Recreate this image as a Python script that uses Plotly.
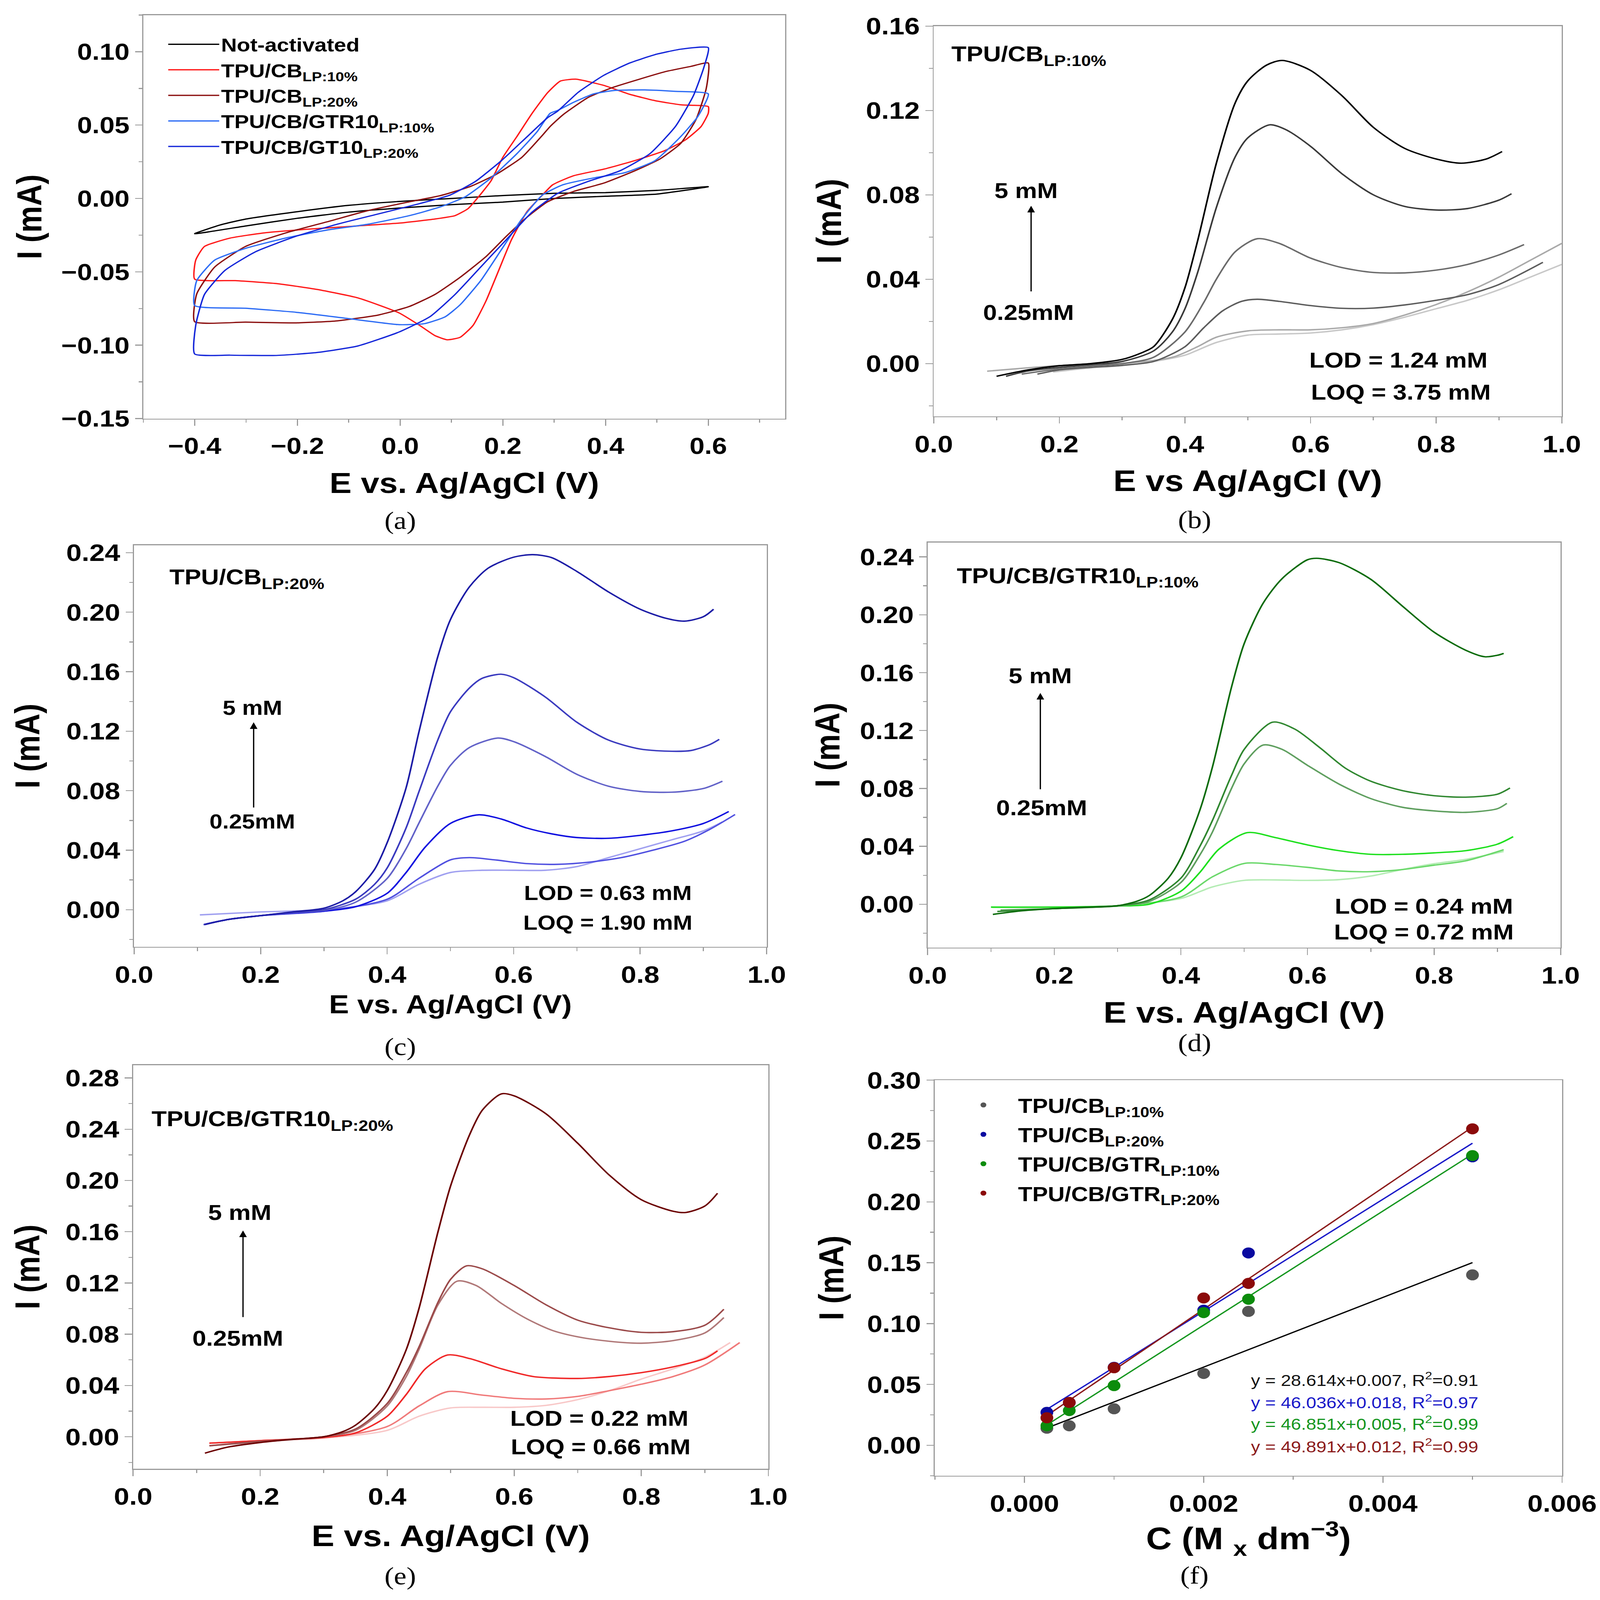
import plotly.graph_objects as go

W, H = 4391, 5073
FONT = "Liberation Sans"
AXC = "#9a9a9a"

# ---------- (a) cyclic voltammograms ----------
a_names = ["Not-activated", "TPU/CB<sub>LP:10%</sub>", "TPU/CB<sub>LP:20%</sub>",
           "TPU/CB/GTR10<sub>LP:10%</sub>", "TPU/CB/GT10<sub>LP:20%</sub>"]
a_colors = ["#000000", "#ff1a1a", "#8b0f0f", "#2d6cf5", "#1426d9"]

a_not_E = [-0.4, -0.35, -0.3, -0.2, -0.1, 0.0, 0.1, 0.2, 0.3, 0.4, 0.5, 0.6,
           0.5, 0.4, 0.3, 0.2, 0.1, 0.0, -0.1, -0.2, -0.3, -0.4]
a_not_I = [-0.024, -0.018, -0.014, -0.009, -0.0047, -0.002, 0.0, 0.002, 0.0035, 0.004, 0.0055, 0.008,
           0.003, 0.0015, 0.0, -0.0025, -0.0042, -0.0065, -0.0093, -0.0135, -0.0187, -0.024]

a_cb10_E = [-0.4, -0.398, -0.381, -0.331, -0.261, -0.182, -0.082, -0.002, 0.068, 0.107, 0.132, 0.150,
            0.177, 0.200, 0.227, 0.257, 0.287, 0.312, 0.342, 0.397, 0.447, 0.497, 0.547, 0.6, 0.6,
            0.586, 0.556, 0.516, 0.456, 0.397, 0.337, 0.297, 0.277, 0.247, 0.217, 0.192, 0.167,
            0.142, 0.117, 0.092, 0.068, 0.038, -0.002, -0.082, -0.162, -0.241, -0.321, -0.4]
a_cb10_I = [-0.055, -0.042, -0.0327, -0.027, -0.0233, -0.021, -0.0187, -0.0168, -0.014, -0.0117, -0.007, 0.0,
            0.012, 0.028, 0.042, 0.058, 0.072, 0.080, 0.0813, 0.077, 0.071, 0.0666, 0.0638, 0.0626, 0.058,
            0.049, 0.040, 0.0327, 0.0257, 0.020, 0.0154, 0.0093, 0.0023, -0.009, -0.028, -0.049, -0.070,
            -0.0865, -0.0946, -0.0963, -0.0935, -0.0865, -0.078, -0.0678, -0.062, -0.058, -0.056, -0.055]

a_cb20_E = [-0.4, -0.396, -0.361, -0.301, -0.222, -0.142, -0.062, 0.018, 0.078, 0.137, 0.187, 0.237,
            0.277, 0.292, 0.317, 0.367, 0.417, 0.466, 0.516, 0.566, 0.6,
            0.596, 0.576, 0.546, 0.506, 0.456, 0.397, 0.337, 0.287, 0.247, 0.207, 0.167, 0.117,
            0.068, 0.018, -0.042, -0.122, -0.202, -0.301, -0.4]
a_cb20_I = [-0.084, -0.065, -0.0467, -0.0327, -0.0234, -0.0159, -0.0082, -0.0023, 0.0019, 0.0082, 0.0164, 0.028,
            0.043, 0.049, 0.057, 0.069, 0.076, 0.0813, 0.0864, 0.090, 0.0923,
            0.0748, 0.0537, 0.0374, 0.0269, 0.0187, 0.0105, 0.0047, -0.0023, -0.0128, -0.0257, -0.0397, -0.0537,
            -0.0654, -0.0736, -0.0794, -0.0834, -0.0848, -0.0843, -0.084]

a_gtr10_E = [-0.4, -0.396, -0.361, -0.301, -0.222, -0.142, -0.062, 0.018, 0.078, 0.127, 0.177, 0.227,
             0.267, 0.292, 0.307, 0.337, 0.377, 0.417, 0.476, 0.536, 0.6,
             0.58, 0.546, 0.496, 0.437, 0.377, 0.317, 0.277, 0.237, 0.197, 0.157, 0.117, 0.088,
             0.048, -0.002, -0.102, -0.202, -0.301, -0.4]
a_gtr10_I = [-0.073, -0.056, -0.042, -0.034, -0.0269, -0.0215, -0.0175, -0.0117, -0.0058, 0.0012, 0.014, 0.0304,
             0.0456, 0.058, 0.060, 0.0654, 0.0713, 0.0736, 0.074, 0.073, 0.0713,
             0.056, 0.042, 0.0257, 0.0175, 0.014, 0.0093, 0.0023, -0.014, -0.035, -0.056, -0.0724, -0.0806,
             -0.0853, -0.086, -0.0818, -0.0776, -0.0748, -0.073]

a_gt10_E = [-0.4, -0.398, -0.381, -0.341, -0.281, -0.202, -0.122, -0.042, 0.038, 0.097, 0.147, 0.197,
            0.247, 0.287, 0.307, 0.347, 0.397, 0.447, 0.496, 0.546, 0.6,
            0.591, 0.571, 0.536, 0.486, 0.427, 0.367, 0.307, 0.257, 0.207, 0.157, 0.107, 0.058,
            -0.002, -0.082, -0.162, -0.241, -0.331, -0.4]
a_gt10_I = [-0.106, -0.0864, -0.0654, -0.049, -0.0362, -0.0257, -0.0175, -0.0105, -0.0035, 0.0023, 0.0117, 0.0257,
            0.042, 0.055, 0.0596, 0.0724, 0.084, 0.0923, 0.098, 0.1017, 0.1028,
            0.0888, 0.070, 0.049, 0.0304, 0.0187, 0.0117, 0.0035, -0.0093, -0.028, -0.0467, -0.0654, -0.0806,
            -0.091, -0.1005, -0.105, -0.107, -0.1068, -0.106]

# ---------- (b) TPU/CB LP:10% DPV ----------
b_colors = ["#000000", "#3a3a3a", "#6b6b6b", "#5c5c5c", "#a9a9a9", "#c8c8c8"]
b1_E = [0.10, 0.15, 0.2, 0.25, 0.3, 0.33, 0.35, 0.38, 0.40, 0.42, 0.45, 0.48, 0.50, 0.53, 0.555,
        0.60, 0.65, 0.70, 0.75, 0.80, 0.84, 0.88, 0.905]
b1_I = [-0.006, -0.003, -0.001, 0.0, 0.002, 0.005, 0.008, 0.021, 0.036, 0.058, 0.095, 0.1236, 0.134, 0.1415, 0.1437,
        0.139, 0.127, 0.112, 0.102, 0.097, 0.095, 0.097, 0.1005]
b2_E = [0.115, 0.15, 0.2, 0.25, 0.3, 0.35, 0.38, 0.40, 0.42, 0.45, 0.48, 0.50, 0.535, 0.56, 0.60,
        0.65, 0.70, 0.75, 0.80, 0.85, 0.90, 0.92]
b2_I = [-0.006, -0.0035, -0.0018, -0.0005, 0.001, 0.006, 0.015, 0.026, 0.043, 0.074, 0.098, 0.107, 0.1132, 0.111, 0.103,
        0.090, 0.080, 0.0745, 0.0728, 0.0735, 0.0775, 0.0805]
b3_E = [0.14, 0.2, 0.25, 0.3, 0.35, 0.40, 0.43, 0.45, 0.48, 0.515, 0.55, 0.60, 0.65, 0.70, 0.75, 0.80, 0.85, 0.90, 0.94]
b3_I = [-0.005, -0.0025, -0.0012, 0.0, 0.003, 0.015, 0.029, 0.040, 0.053, 0.0592, 0.057, 0.050, 0.0455, 0.0432,
        0.043, 0.0443, 0.047, 0.0515, 0.0564]
b4_E = [0.165, 0.2, 0.25, 0.3, 0.35, 0.40, 0.43, 0.46, 0.49, 0.515, 0.55, 0.60, 0.65, 0.70, 0.75, 0.80, 0.85, 0.90, 0.97]
b4_I = [-0.005, -0.003, -0.0018, -0.0008, 0.001, 0.008, 0.017, 0.025, 0.0295, 0.0305, 0.0295, 0.0275, 0.0262, 0.0263,
        0.0278, 0.030, 0.0327, 0.0375, 0.048]
b5_E = [0.085, 0.15, 0.2, 0.3, 0.38, 0.42, 0.45, 0.50, 0.55, 0.60, 0.65, 0.70, 0.75, 0.80, 0.85, 0.90, 0.95, 1.0]
b5_I = [-0.0036, -0.002, -0.001, 0.0, 0.003, 0.008, 0.0125, 0.0155, 0.016, 0.016, 0.017, 0.019, 0.023, 0.028, 0.034,
        0.041, 0.049, 0.057]
b6_E = [0.19, 0.25, 0.3, 0.35, 0.40, 0.45, 0.50, 0.55, 0.60, 0.65, 0.70, 0.75, 0.80, 0.85, 0.90, 0.95, 1.0]
b6_I = [-0.004, -0.002, -0.001, 0.001, 0.004, 0.010, 0.0135, 0.014, 0.0145, 0.016, 0.0185, 0.022, 0.026, 0.030,
        0.035, 0.041, 0.047]

# ---------- (c) TPU/CB LP:20% DPV ----------
c_colors = ["#1c1ca6", "#3a3abf", "#6262c8", "#1010e0", "#5050e0", "#a0a0f0"]
c1_E = [0.112, 0.15, 0.2, 0.25, 0.3, 0.33, 0.35, 0.38, 0.40, 0.43, 0.45, 0.48, 0.50, 0.53, 0.56, 0.60, 0.63,
        0.66, 0.70, 0.75, 0.80, 0.84, 0.87, 0.90, 0.916]
c1_I = [-0.010, -0.0065, -0.004, -0.0015, 0.001, 0.006, 0.012, 0.027, 0.045, 0.082, 0.119, 0.170, 0.195, 0.217,
        0.2297, 0.237, 0.2387, 0.2367, 0.2274, 0.2136, 0.202, 0.196, 0.194, 0.197, 0.202]
c2_E = [0.11, 0.15, 0.2, 0.25, 0.3, 0.35, 0.38, 0.40, 0.43, 0.45, 0.48, 0.50, 0.53, 0.55, 0.58, 0.60, 0.65, 0.70,
        0.75, 0.80, 0.85, 0.88, 0.91, 0.925]
c2_I = [-0.010, -0.0065, -0.004, -0.0018, 0.0, 0.007, 0.017, 0.028, 0.055, 0.079, 0.114, 0.133, 0.149, 0.1555,
        0.1583, 0.156, 0.143, 0.126, 0.114, 0.108, 0.1065, 0.107, 0.111, 0.1145]
c3_E = [0.11, 0.15, 0.2, 0.25, 0.3, 0.35, 0.40, 0.43, 0.45, 0.48, 0.50, 0.53, 0.575, 0.60, 0.65, 0.70, 0.75, 0.80,
        0.85, 0.90, 0.93]
c3_I = [-0.010, -0.0065, -0.004, -0.002, -0.0005, 0.005, 0.021, 0.041, 0.058, 0.083, 0.097, 0.109, 0.1154, 0.113,
        0.103, 0.091, 0.083, 0.0795, 0.079, 0.0815, 0.0864]
c4_E = [0.11, 0.15, 0.2, 0.25, 0.3, 0.35, 0.40, 0.43, 0.46, 0.50, 0.545, 0.58, 0.62, 0.66, 0.70, 0.75, 0.80, 0.85,
        0.90, 0.94]
c4_I = [-0.010, -0.0065, -0.004, -0.0022, -0.001, 0.002, 0.011, 0.025, 0.042, 0.058, 0.0638, 0.061, 0.055, 0.051,
        0.0485, 0.048, 0.050, 0.053, 0.058, 0.066]
c5_E = [0.11, 0.15, 0.2, 0.3, 0.40, 0.45, 0.50, 0.53, 0.57, 0.62, 0.67, 0.72, 0.77, 0.82, 0.87, 0.91, 0.95]
c5_I = [-0.010, -0.0065, -0.004, -0.001, 0.007, 0.021, 0.0335, 0.035, 0.0335, 0.031, 0.0305, 0.032, 0.035, 0.040,
        0.046, 0.054, 0.064]
c6_E = [0.104, 0.2, 0.3, 0.40, 0.45, 0.50, 0.55, 0.60, 0.65, 0.70, 0.75, 0.80, 0.85, 0.90, 0.93]
c6_I = [-0.0035, -0.0015, 0.0, 0.006, 0.017, 0.025, 0.0265, 0.0265, 0.0265, 0.029, 0.035, 0.041, 0.047, 0.053, 0.059]

# ---------- (d) TPU/CB/GTR10 LP:10% DPV ----------
d_colors = ["#0b6b0b", "#2f872f", "#5f9f5f", "#1ee01e", "#6ad86a", "#b4ecb4"]
d1_E = [0.103, 0.15, 0.2, 0.25, 0.3, 0.33, 0.35, 0.38, 0.40, 0.43, 0.45, 0.48, 0.50, 0.53, 0.56, 0.60, 0.615,
        0.65, 0.70, 0.75, 0.80, 0.85, 0.88, 0.90, 0.91]
d1_I = [-0.007, -0.0045, -0.003, -0.002, -0.001, 0.002, 0.006, 0.018, 0.032, 0.065, 0.095, 0.150, 0.180, 0.208,
        0.225, 0.238, 0.239, 0.236, 0.2245, 0.206, 0.188, 0.1755, 0.171, 0.172, 0.1733]
d2_E = [0.11, 0.2, 0.3, 0.35, 0.40, 0.43, 0.45, 0.48, 0.50, 0.545, 0.58, 0.62, 0.66, 0.70, 0.75, 0.80, 0.85, 0.90, 0.92]
d2_I = [-0.005, -0.003, -0.001, 0.003, 0.018, 0.040, 0.058, 0.089, 0.107, 0.1258, 0.121, 0.108, 0.094, 0.085,
        0.0785, 0.075, 0.074, 0.076, 0.0803]
d3_E = [0.115, 0.2, 0.3, 0.35, 0.40, 0.43, 0.45, 0.48, 0.50, 0.53, 0.56, 0.60, 0.65, 0.70, 0.75, 0.80, 0.85, 0.90, 0.915]
d3_I = [-0.004, -0.003, -0.0012, 0.002, 0.015, 0.034, 0.050, 0.080, 0.097, 0.110, 0.107, 0.096, 0.083, 0.073,
        0.067, 0.0645, 0.0635, 0.066, 0.0697]
d4_E = [0.10, 0.2, 0.3, 0.35, 0.40, 0.43, 0.46, 0.505, 0.55, 0.60, 0.65, 0.70, 0.75, 0.80, 0.85, 0.90, 0.925]
d4_I = [-0.002, -0.002, -0.0012, 0.0, 0.009, 0.022, 0.038, 0.0495, 0.046, 0.041, 0.037, 0.0345, 0.0345, 0.0355,
        0.037, 0.0415, 0.0467]
d5_E = [0.10, 0.2, 0.3, 0.40, 0.45, 0.50, 0.55, 0.60, 0.65, 0.70, 0.75, 0.80, 0.85, 0.91]
d5_I = [-0.002, -0.002, -0.0012, 0.005, 0.019, 0.0282, 0.0275, 0.0255, 0.023, 0.0225, 0.024, 0.027, 0.030, 0.0377]
d6_E = [0.10, 0.2, 0.3, 0.40, 0.45, 0.50, 0.55, 0.60, 0.65, 0.70, 0.75, 0.80, 0.85, 0.91]
d6_I = [-0.002, -0.0018, -0.001, 0.004, 0.012, 0.0165, 0.0168, 0.0165, 0.017, 0.0195, 0.024, 0.028, 0.031, 0.0365]

# ---------- (e) TPU/CB/GTR10 LP:20% DPV ----------
e_colors = ["#6b0000", "#9b4a4a", "#b07878", "#f02828", "#f07a7a", "#f8c8c8"]
e1_E = [0.113, 0.15, 0.2, 0.25, 0.3, 0.33, 0.35, 0.38, 0.40, 0.43, 0.45, 0.48, 0.50, 0.53, 0.55, 0.58, 0.60,
        0.65, 0.70, 0.75, 0.80, 0.85, 0.87, 0.90, 0.92]
e1_I = [-0.0128, -0.008, -0.0045, -0.002, 0.0, 0.004, 0.009, 0.022, 0.036, 0.068, 0.100, 0.160, 0.196, 0.236,
        0.255, 0.2676, 0.266, 0.252, 0.229, 0.204, 0.185, 0.176, 0.175, 0.180, 0.190]
e2_E = [0.12, 0.2, 0.3, 0.35, 0.40, 0.43, 0.45, 0.48, 0.50, 0.525, 0.55, 0.60, 0.65, 0.70, 0.75, 0.80, 0.85, 0.90, 0.93]
e2_I = [-0.007, -0.0035, 0.0, 0.006, 0.026, 0.050, 0.070, 0.105, 0.123, 0.1334, 0.131, 0.118, 0.103, 0.091,
        0.085, 0.0815, 0.082, 0.087, 0.0995]
e3_E = [0.12, 0.2, 0.3, 0.35, 0.40, 0.43, 0.45, 0.48, 0.51, 0.54, 0.58, 0.62, 0.66, 0.70, 0.75, 0.80, 0.85, 0.90, 0.93]
e3_I = [-0.007, -0.004, 0.0, 0.005, 0.024, 0.047, 0.068, 0.103, 0.1214, 0.118, 0.104, 0.092, 0.083, 0.078,
        0.0745, 0.073, 0.075, 0.081, 0.093]
e4_E = [0.12, 0.2, 0.3, 0.35, 0.40, 0.43, 0.46, 0.495, 0.53, 0.58, 0.63, 0.70, 0.75, 0.80, 0.85, 0.90, 0.92]
e4_I = [-0.005, -0.003, -0.0005, 0.003, 0.016, 0.033, 0.053, 0.0638, 0.061, 0.053, 0.047, 0.0455, 0.047, 0.050,
        0.0545, 0.061, 0.067]
e5_E = [0.12, 0.2, 0.3, 0.40, 0.45, 0.495, 0.55, 0.60, 0.65, 0.70, 0.75, 0.80, 0.85, 0.90, 0.955]
e5_I = [-0.005, -0.003, -0.0008, 0.008, 0.024, 0.0352, 0.0325, 0.030, 0.0295, 0.0315, 0.036, 0.041, 0.047, 0.056, 0.0735]
e6_E = [0.12, 0.2, 0.3, 0.40, 0.45, 0.50, 0.55, 0.60, 0.65, 0.70, 0.75, 0.80, 0.85, 0.90, 0.94]
e6_I = [-0.005, -0.003, -0.001, 0.005, 0.016, 0.0225, 0.023, 0.023, 0.0245, 0.029, 0.036, 0.045, 0.053, 0.062, 0.0735]

# ---------- (f) calibration ----------
conc = [0.00025, 0.0005, 0.001, 0.002, 0.0025, 0.005]
f_cb10 = [0.014, 0.016, 0.030, 0.059, 0.110, 0.140]
f_cb20 = [0.027, 0.035, 0.064, 0.111, 0.158, 0.237]
f_gtr10 = [0.016, 0.0285, 0.049, 0.109, 0.120, 0.238]
f_gtr20 = [0.0226, 0.0352, 0.0637, 0.121, 0.133, 0.260]
f_names = ["TPU/CB<sub>LP:10%</sub>", "TPU/CB<sub>LP:20%</sub>",
           "TPU/CB/GTR<sub>LP:10%</sub>", "TPU/CB/GTR<sub>LP:20%</sub>"]
f_dot_colors = ["#555555", "#0a0aa0", "#0c8c0c", "#8b0a0a"]
f_line_colors = ["#000000", "#1818c8", "#14961e", "#8b1a1a"]
f_slope = [28.614, 46.036, 46.851, 49.891]
f_icpt = [0.007, 0.018, 0.005, 0.012]
f_r2 = ["0.91", "0.97", "0.99", "0.99"]


def bold(size):
    return dict(family=FONT, size=size, color="black", weight="bold")


def axis(domain, anchor, rng, dtick, minor, fmt, title, tsize, standoff, ticksize=76):
    return dict(domain=domain, anchor=anchor, range=rng, dtick=dtick, tick0=0, tickformat=fmt,
                showline=True, mirror=True, linecolor=AXC, linewidth=3,
                ticks="outside", ticklen=20, tickwidth=3, tickcolor=AXC,
                minor=dict(ticks="outside", dtick=minor, ticklen=10, tickwidth=3, tickcolor=AXC),
                showgrid=False, zeroline=False, automargin=False,
                tickfont=bold(ticksize),
                title=dict(text=title, font=bold(tsize), standoff=standoff))


fig = go.Figure()

# (a)
for name, col, xs, ys in zip(a_names, a_colors,
                             [a_not_E, a_cb10_E, a_cb20_E, a_gtr10_E, a_gt10_E],
                             [a_not_I, a_cb10_I, a_cb20_I, a_gtr10_I, a_gt10_I]):
    fig.add_trace(go.Scatter(x=xs, y=ys, mode="lines", name=name, xaxis="x", yaxis="y",
                             line=dict(color=col, width=4, shape="spline", smoothing=0.5),
                             legend="legend"))

# (b)-(e)
dpv = [
    ("x2", "y2", b_colors, [(b1_E, b1_I), (b2_E, b2_I), (b3_E, b3_I), (b4_E, b4_I), (b5_E, b5_I), (b6_E, b6_I)]),
    ("x3", "y3", c_colors, [(c1_E, c1_I), (c2_E, c2_I), (c3_E, c3_I), (c4_E, c4_I), (c5_E, c5_I), (c6_E, c6_I)]),
    ("x4", "y4", d_colors, [(d1_E, d1_I), (d2_E, d2_I), (d3_E, d3_I), (d4_E, d4_I), (d5_E, d5_I), (d6_E, d6_I)]),
    ("x5", "y5", e_colors, [(e1_E, e1_I), (e2_E, e2_I), (e3_E, e3_I), (e4_E, e4_I), (e5_E, e5_I), (e6_E, e6_I)]),
]
for xa, ya, cols, curves in dpv:
    for col, (xs, ys) in reversed(list(zip(cols, curves))):
        fig.add_trace(go.Scatter(x=xs, y=ys, mode="lines", xaxis=xa, yaxis=ya, showlegend=False,
                                 line=dict(color=col, width=4.5, shape="spline", smoothing=0.8)))

# (f) fit lines then points
f_series = [f_cb10, f_cb20, f_gtr10, f_gtr20]
fit_x = [min(conc), max(conc)]
for k in range(4):
    fig.add_trace(go.Scatter(x=fit_x, y=[f_slope[k] * c + f_icpt[k] for c in fit_x], mode="lines",
                             xaxis="x6", yaxis="y6", showlegend=False,
                             line=dict(color=f_line_colors[k], width=4)))
for k in range(4):
    fig.add_trace(go.Scatter(x=conc, y=f_series[k], mode="markers", name=f_names[k], xaxis="x6", yaxis="y6",
                             marker=dict(color=f_dot_colors[k], size=35), legend="legend2",
                             legendgroup="f%d" % k))

layout = dict(
    width=W, height=H, margin=dict(l=0, r=0, t=0, b=0),
    paper_bgcolor="white", plot_bgcolor="white",
    xaxis=axis([0.0896, 0.4908], "y", [-0.5, 0.75], 0.2, 0.1, ".1f", "E vs. Ag/AgCl (V)", 91, 46, 74),
    yaxis=axis([0.7384, 0.9906], "x", [-0.15, 0.125], 0.05, 0.025, ".2f", "I (mA)", 95, 23, 74),
    xaxis2=axis([0.5836, 0.9761], "y2", [0, 1], 0.2, 0.1, ".1f", "E vs Ag/AgCl (V)", 94, 42),
    yaxis2=axis([0.7398, 0.9837], "x2", [-0.025, 0.16], 0.04, 0.02, ".2f", "I (mA)", 95, 37),
    xaxis3=axis([0.0838, 0.4792], "y3", [0, 1], 0.2, 0.1, ".1f", "E vs. Ag/AgCl (V)", 82, 24),
    yaxis3=axis([0.4082, 0.6592], "x3", [-0.025, 0.245], 0.04, 0.02, ".2f", "I (mA)", 95, 42),
    xaxis4=axis([0.5798, 0.9754], "y4", [0, 1], 0.2, 0.1, ".1f", "E vs. Ag/AgCl (V)", 95, 43),
    yaxis4=axis([0.4077, 0.6610], "x4", [-0.030, 0.250], 0.04, 0.02, ".2f", "I (mA)", 95, 24),
    xaxis5=axis([0.0832, 0.4802], "y5", [0, 1], 0.2, 0.1, ".1f", "E vs. Ag/AgCl (V)", 94, 50),
    yaxis5=axis([0.0820, 0.3343], "x5", [-0.025, 0.29], 0.04, 0.02, ".2f", "I (mA)", 95, 39),
    xaxis6=axis([0.5843, 0.9763], "y6", [-0.001, 0.006], 0.002, 0.001, ".3f",
                "C (M <sub>x</sub> dm<sup>\u22123</sup>)", 98, 30),
    yaxis6=axis([0.0777, 0.3249], "x6", [-0.025, 0.30], 0.05, 0.025, ".2f", "I (mA)", 95, 33),
    legend=dict(x=0.104, y=0.9813, xanchor="left", yanchor="top", bgcolor="rgba(0,0,0,0)",
                font=bold(60), tracegroupgap=0, itemwidth=140),
    legend2=dict(x=0.593, y=0.3189, xanchor="left", yanchor="top", bgcolor="rgba(0,0,0,0)",
                 font=bold(64), tracegroupgap=7, itemwidth=180),
)
fig.update_layout(**layout)

ann = []


def note(text, x, y, xa, ya, size=68, anchor="center", color="black", weight="bold"):
    ann.append(dict(text=text, x=x, y=y, xref=xa, yref=ya, showarrow=False, xanchor=anchor, yanchor="middle",
                    font=dict(family=FONT, size=size, color=color, weight=weight)))


def arrow(x, y0, y1, xa, ya):
    ann.append(dict(text="", x=x, y=y1, ax=x, ay=y0, xref=xa, yref=ya, axref=xa, ayref=ya,
                    showarrow=True, arrowhead=2, arrowsize=1.2, arrowwidth=3.5, arrowcolor="black"))


# (b)
note("TPU/CB<sub>LP:10%</sub>", 0.027, 0.146, "x2", "y2", anchor="left")
note("5 mM", 0.147, 0.082, "x2", "y2")
note("0.25mM", 0.151, 0.0244, "x2", "y2")
arrow(0.155, 0.034, 0.0748, "x2", "y2")
note("LOD = 1.24 mM", 0.74, 0.0016, "x2", "y2")
note("LOQ = 3.75 mM", 0.744, -0.0135, "x2", "y2")
# (c)
note("TPU/CB<sub>LP:20%</sub>", 0.055, 0.2228, "x3", "y3", anchor="left")
note("5 mM", 0.187, 0.1357, "x3", "y3", size=64)
note("0.25mM", 0.187, 0.0592, "x3", "y3", size=64)
arrow(0.189, 0.0684, 0.126, "x3", "y3")
note("LOD = 0.63 mM", 0.749, 0.0113, "x3", "y3", size=64)
note("LOQ = 1.90 mM", 0.749, -0.0088, "x3", "y3", size=64)
# (d)
note("TPU/CB/GTR10<sub>LP:10%</sub>", 0.045, 0.226, "x4", "y4", anchor="left")
note("5 mM", 0.178, 0.158, "x4", "y4")
note("0.25mM", 0.18, 0.0666, "x4", "y4")
arrow(0.178, 0.0791, 0.146, "x4", "y4")
note("LOD = 0.24 mM", 0.784, -0.0014, "x4", "y4")
note("LOQ = 0.72 mM", 0.784, -0.0192, "x4", "y4")
# (e)
note("TPU/CB/GTR10<sub>LP:20%</sub>", 0.028, 0.247, "x5", "y5", anchor="left")
note("5 mM", 0.168, 0.175, "x5", "y5")
note("0.25mM", 0.165, 0.077, "x5", "y5")
arrow(0.173, 0.093, 0.161, "x5", "y5")
note("LOD = 0.22 mM", 0.734, 0.0145, "x5", "y5")
note("LOQ = 0.66 mM", 0.736, -0.0078, "x5", "y5")
# (f) fit equations
for k, yy in enumerate([0.0543, 0.0358, 0.0182, -0.0003]):
    note("y = %.3fx+%.3f, R<sup>2</sup>=%s" % (f_slope[k], f_icpt[k], f_r2[k]), 0.00252, yy, "x6", "y6",
         size=50, anchor="left", color=f_line_colors[k] if k else "#111111", weight="normal")

# panel labels
for lab, px, py in [("(a)", 1098, 1650), ("(b)", 3278, 1648), ("(c)", 1098, 3318),
                    ("(d)", 3278, 3306), ("(e)", 1098, 4997), ("(f)", 3278, 4994)]:
    ann.append(dict(text=lab, x=px / W, y=1 - py / H, xref="paper", yref="paper", showarrow=False,
                    xanchor="center", yanchor="middle",
                    font=dict(family="Liberation Serif", size=78, color="black")))

fig.update_layout(annotations=ann)

# the page is fitted to whatever window it is opened in
fit_js = """
var gd = document.getElementById('{plot_id}');
document.documentElement.style.overflow = 'hidden';
document.body.style.margin = '0';
document.body.style.overflow = 'hidden';
function fitPage() {
  var sx = window.innerWidth / %d, sy = window.innerHeight / %d;
  gd.style.transformOrigin = '0 0';
  gd.style.transform = 'scale(' + sx + ',' + sy + ')';
}
fitPage();
window.addEventListener('resize', fitPage);
""" % (W, H)

fig.write_html("out.html", config={"displayModeBar": False}, post_script=fit_js)
